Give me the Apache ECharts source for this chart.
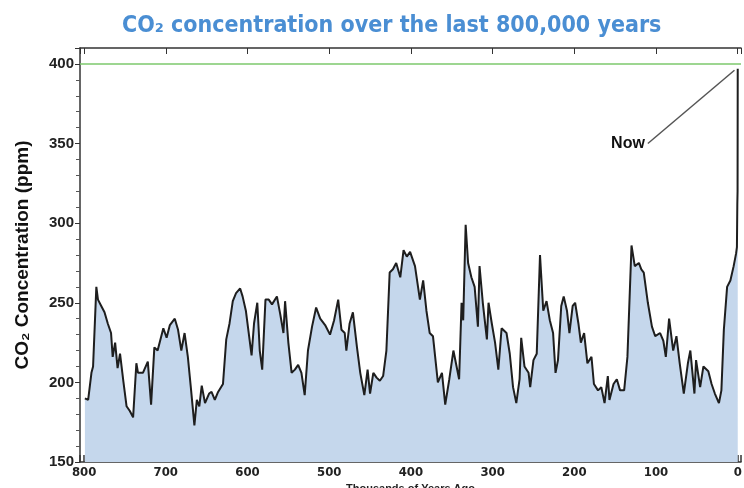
<!DOCTYPE html>
<html><head><meta charset="utf-8">
<script src="https://cdn.jsdelivr.net/npm/echarts@6/dist/echarts.min.js"></script>
<style>html,body{margin:0;padding:0;background:#fff}#c{width:744px;height:488px}</style>
</head><body><div id="c"></div>
<script>
const titleText = 'CO\u2082 concentration over the last 800,000 years';
const yAxisName = 'CO\u2082 Concentration (ppm)';
const xAxisName = 'Thousands of Years Ago';
const yTicks = [150, 200, 250, 300, 350, 400];
const xTicks = [800, 700, 600, 500, 400, 300, 200, 100, 0];
const currentLevel = 400;
const nowText = 'Now';
const nowFrom = [110, 350];
const nowTo = [4, 396];

const yearsAgo = [799,795,791,789,785,783,779,775,771,767,765,762,759,756,752,748,744,740,736,734,728,722,718,714,710,703,699,695,689,685,681,677,673,669,665,662,659,656,652,647,644,640,636,630,626,622,618,614,609,606,602,599,595,592,588,585,582,578,574,570,564,560,556,554,550,546,542,538,534,530,526,521,516,511,505,499,494,489,485,481,479,475,471,466,462,457,453,450,446,442,438,434,430,426,422,418,413,409,405,401,395,389,385,381,377,373,367,362,358,353,348,341,338,336,333,330,326,322,318,316,312,307,305,301,297,293,289,283,279,275,271,267,265,261,256,254,250,246,242,238,234,230,226,223,220,216,213,209,206,202,199,195,192,188,184,179,176,171,167,163,159,157,152,148,144,139,135,130,126,121,118,115,110,105,101,95,91,88,84,79,75,71,66,61,58,53,51,46,42,36,32,28,23,20,17,13,9,5,2,1,0.5,0.2,0];
const co2 = [190,189,206,210,260,252,248,244,237,231,216,225,209,218,201,185,182,178,212,206,206,213,186,222,220,234,228,236,240,233,220,231,216,195,173,189,185,198,187,193,194,189,194,199,227,237,251,256,259,254,245,233,217,237,250,220,208,252,252,249,254,243,231,251,225,206,208,211,206,192,220,235,247,240,236,230,239,252,233,231,220,237,244,222,206,192,208,193,206,203,201,204,220,269,271,275,266,283,279,282,273,252,264,245,231,229,200,206,186,202,220,202,250,239,299,275,266,260,235,273,250,227,250,237,225,208,234,231,218,197,187,202,228,210,206,197,214,218,280,245,251,239,231,206,214,248,254,245,231,248,250,237,225,231,212,216,199,195,197,187,204,189,199,202,195,195,216,286,273,275,271,269,250,235,229,231,226,216,240,220,229,212,193,212,220,193,214,197,210,207,199,193,187,195,233,260,264,273,281,285,312,320,397];

const seriesData = yearsAgo.map((y, i) => [y, co2[i]]);

const chart = echarts.init(document.getElementById('c'));
const axisColor = '#333';
chart.setOption({
  animation: false,
  backgroundColor: '#fff',
  title: {
    text: titleText, left: 117, top: 10,
    textStyle: { color: '#4a8ed3', fontSize: 23, fontWeight: 'bold', fontFamily: '"Liberation Sans Narrow","DejaVu Sans Condensed","Liberation Sans",sans-serif' }
  },
  grid: { left: 80, right: 3, top: 48, bottom: 26, outerBoundsMode: 'none', containLabel: false },
  xAxis: [{
    type: 'value', inverse: true, min: -4, max: 805, splitNumber: 8,
    name: xAxisName, nameLocation: 'middle', nameGap: 19,
    nameTextStyle: { fontSize: 11, fontWeight: 'bold', color: '#222', fontFamily: '"Liberation Sans Narrow","Liberation Sans",sans-serif' },
    axisLine: { onZero: false, lineStyle: { color: axisColor, width: 1.5 } },
    axisTick: { inside: true, length: 7, lineStyle: { color: axisColor, width: 1.5 } },
    splitLine: { show: false },
    axisLabel: {
      margin: 4, color: '#222', fontSize: 13, fontWeight: 'bold',
      fontFamily: '"Liberation Sans Narrow","DejaVu Sans Condensed",sans-serif',
      formatter: v => xTicks.includes(v) ? String(v) : ''
    }
  }, {
    type: 'value', inverse: true, min: -4, max: 805, splitNumber: 8, position: 'top',
    axisLine: { onZero: false, lineStyle: { color: axisColor, width: 1.5 } },
    axisTick: { inside: true, length: 6, lineStyle: { color: axisColor } },
    axisLabel: { show: false }, splitLine: { show: false }
  }],
  yAxis: {
    type: 'value', min: 150, max: 410, interval: 50,
    name: yAxisName, nameLocation: 'middle', nameGap: 48,
    nameTextStyle: { fontSize: 19, fontWeight: 'bold', color: '#111', fontFamily: '"Liberation Sans",Arial,sans-serif' },
    axisLine: { show: true, onZero: false, lineStyle: { color: axisColor, width: 1.5 } },
    axisTick: { show: true, length: 5, lineStyle: { color: axisColor } },
    minorTick: { show: true, splitNumber: 5, length: 4, lineStyle: { color: '#555' } },
    splitLine: { show: false },
    axisLabel: {
      margin: 6, color: '#222', fontSize: 15, fontWeight: 'bold',
      fontFamily: '"Liberation Sans",Arial,sans-serif',
      formatter: v => yTicks.includes(v) ? String(v) : ''
    }
  },
  series: [{
    type: 'line', data: seriesData, showSymbol: false, symbol: 'none',
    lineStyle: { color: '#1e1e1e', width: 2 },
    areaStyle: { color: '#c5d7ec', opacity: 1, origin: 'start' },
    markLine: {
      silent: true, symbol: 'none', animation: false,
      data: [
        { yAxis: currentLevel, lineStyle: { color: '#7cc86c', width: 1.5, type: 'solid' }, label: { show: false } },
        [ { coord: nowFrom }, { coord: nowTo } ]
      ],
      lineStyle: { color: '#555', width: 1.5, type: 'solid' },
      label: { show: false }
    },
    markPoint: {
      symbol: 'circle', symbolSize: 0,
      data: [{ coord: nowFrom, value: nowText }],
      label: { show: true, position: 'left', distance: 3, formatter: nowText, color: '#111', fontSize: 16, fontWeight: 'bold', fontFamily: '"Liberation Sans",Arial,sans-serif' }
    }
  }]
});
</script></body></html>
